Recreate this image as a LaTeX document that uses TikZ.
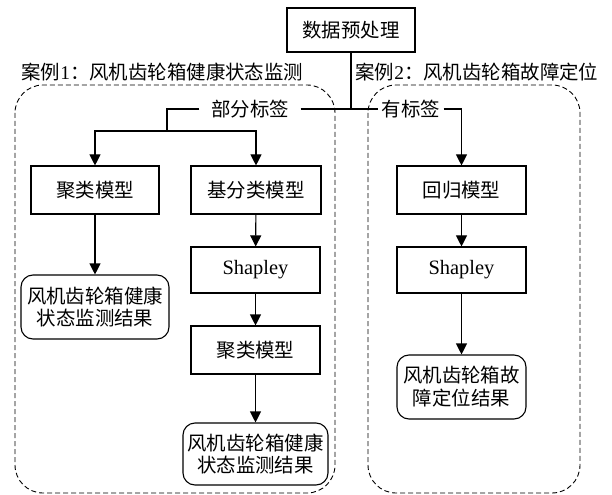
\documentclass[tikz,border=0pt]{standalone}
\usepackage{fontspec}
\setmainfont{Liberation Serif}
\newfontfamily\cjk{Noto Sans CJK SC}
\usetikzlibrary{arrows.meta}
\begin{document}
\begin{tikzpicture}[x=1bp,y=-1bp,
  font=\fontsize{19.5}{23}\selectfont,
  line width=1.1bp,
  box/.style={draw,rectangle,inner sep=0pt,minimum width=129bp,minimum height=48bp,align=center},
  resbox/.style={draw,rectangle,rounded corners=12bp,inner sep=0pt,minimum width=129bp,minimum height=64bp,align=center},
  lbl/.style={inner sep=0pt,minimum width=100bp},
  arr/.style={-{Triangle[length=11bp,width=11bp]}},
  case/.style={draw,dash pattern=on 5bp off 3bp,line width=0.9bp,rounded corners=28bp}]
\useasboundingbox (0,0) rectangle (612,495);
% dashed groups
\draw[case] (15,85) rectangle (335,493);
\draw[case] (368,85) rectangle (580,493);
% case labels
\node[anchor=west,inner sep=0pt] (case1) at (21,72) {{\cjk 案例}1{\cjk ：风机齿轮箱健康状态监测}};
\node[anchor=west,inner sep=0pt] (case2) at (355,72) {{\cjk 案例}2{\cjk ：风机齿轮箱故障定位}};
% nodes
\node[box,minimum width=128bp,minimum height=44bp] (tp) at (351,30) {\cjk 数据预处理};
\node[lbl] (pl) at (250,109) {\cjk 部分标签};
\node[lbl,minimum width=64bp] (yl) at (411,109) {\cjk 有标签};
\coordinate (jn) at (351,109);
\node[box,minimum width=128bp] (c1) at (95,190) {\cjk 聚类模型};
\node[box,minimum width=130bp] (c2) at (256,190) {\cjk 基分类模型};
\node[box,minimum height=46bp] (s1) at (255.5,270) {\fontsize{20.5}{24}\selectfont Shapley};
\node[box] (c3) at (255.5,350) {\cjk 聚类模型};
\node[resbox,minimum width=145bp,minimum height=62bp] (r2) at (255.5,454) {\cjk 风机齿轮箱健康\\\cjk 状态监测结果};
\node[resbox,minimum width=148bp] (r1) at (95,307) {\cjk 风机齿轮箱健康\\\cjk 状态监测结果};
\node[box] (c4) at (461.5,190) {\cjk 回归模型};
\node[box,minimum height=46bp] (s2) at (461.5,270) {\fontsize{20.5}{24}\selectfont Shapley};
\node[resbox] (r3) at (461.5,387) {\cjk 风机齿轮箱故\\\cjk 障定位结果};
\coordinate (br) at (167,131);
% connectors
\draw (tp.south) -- (jn);
\draw (pl.east) -- (jn) -- (yl.west);
\draw (pl.west) -| (br);
\draw[arr] (br) -| (c1.north);
\draw[arr] (br) -| (c2.north);
\draw[arr] (yl.east) -| (c4.north);
\draw[arr] (c1) -- (r1);
\draw[arr] (c2) -- (s1);
\draw[arr] (s1) -- (c3);
\draw[arr] (c3) -- (r2);
\draw[arr] (c4) -- (s2);
\draw[arr] (s2) -- (r3);
\end{tikzpicture}
\end{document}
